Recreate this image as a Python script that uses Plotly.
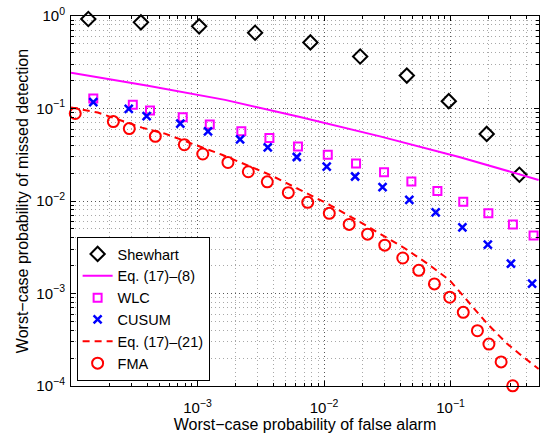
import plotly.graph_objects as go

# ---- data ----
shewhart_x = [1.37e-4, 3.57e-4, 1.03e-3, 2.85e-3, 7.8e-3, 0.0193, 0.0451, 0.0968, 0.193, 0.350]
shewhart_y = [0.928, 0.854, 0.773, 0.659, 0.518, 0.365, 0.227, 0.120, 0.0531, 0.0192]

eq8_x = [1.0e-4, 4.06e-4, 1.65e-3, 6.46e-3, 0.0277, 0.119, 0.497]
eq8_y = [0.243, 0.176, 0.124, 0.0809, 0.050, 0.0297, 0.0169]

wlc_x = [1.50e-4, 3.08e-4, 4.21e-4, 7.64e-4, 1.25e-3, 2.22e-3, 3.70e-3, 6.22e-3, 0.0107,
         0.0179, 0.0298, 0.049, 0.0787, 0.126, 0.199, 0.311, 0.453]
wlc_y = [0.128, 0.110, 0.095, 0.0805, 0.067, 0.0567, 0.048, 0.0389, 0.0316,
         0.0254, 0.0205, 0.0162, 0.0128, 0.0098, 0.00735, 0.00558, 0.00424]

cusum_x = [1.50e-4, 2.86e-4, 3.96e-4, 7.31e-4, 1.21e-3, 2.17e-3, 3.59e-3, 6.09e-3, 0.0105,
           0.0176, 0.029, 0.0472, 0.0763, 0.124, 0.197, 0.300, 0.441]
cusum_y = [0.117, 0.099, 0.0826, 0.0687, 0.0567, 0.0464, 0.038, 0.0299, 0.0236,
           0.0184, 0.0141, 0.01026, 0.00754, 0.00518, 0.00338, 0.0021, 0.00128]

eq21_x = [1.0e-4, 1.63e-4, 3.64e-4, 5.53e-4, 1.56e-3, 3.74e-3, 6.46e-3, 0.01114, 0.0193,
          0.0422, 0.0652, 0.099, 0.1946, 0.28, 0.374, 0.497]
eq21_y = [0.1025, 0.0905, 0.0621, 0.0535, 0.0316, 0.0192, 0.0132, 0.00905, 0.00591,
          0.00316, 0.00212, 0.00138, 0.000472, 0.000286, 0.000207, 0.000153]

fma_x = [1.08e-4, 2.16e-4, 2.89e-4, 4.64e-4, 7.87e-4, 1.10e-3, 1.74e-3, 2.52e-3, 3.56e-3,
         5.22e-3, 7.43e-3, 0.011, 0.0158, 0.0221, 0.0302, 0.0419, 0.0561, 0.0745,
         0.0986, 0.126, 0.163, 0.201, 0.251, 0.31]
fma_y = [0.0883, 0.0722, 0.0606, 0.050, 0.0406, 0.0322, 0.0261, 0.0207, 0.0161,
         0.0123, 0.00968, 0.00735, 0.00558, 0.00438, 0.00333, 0.00242, 0.00178, 0.00127,
         0.000912, 0.000626, 0.000396, 0.000284, 0.000182, 0.0001005]

x_tickvals = [1e-3, 1e-2, 1e-1]
x_ticktext = ["10<sup>−3</sup>", "10<sup>−2</sup>", "10<sup>−1</sup>"]
y_tickvals = [1e-4, 1e-3, 1e-2, 1e-1, 1e0]
y_ticktext = ["10<sup>−4</sup>", "10<sup>−3</sup>", "10<sup>−2</sup>", "10<sup>−1</sup>", "10<sup>0</sup>"]

x_minor = [d * 10.0 ** e for e in range(-4, 0) for d in range(2, 10) if d * 10.0 ** e <= 0.5]
y_minor = [d * 10.0 ** e for e in range(-4, 0) for d in range(2, 10)]

FONT = "Liberation Sans, Arial, Helvetica, sans-serif"

fig = go.Figure()
fig.add_trace(go.Scatter(x=shewhart_x, y=shewhart_y, mode="markers", name="Shewhart",
                         cliponaxis=False,
                         marker=dict(symbol="diamond-open", size=11, color="black",
                                     line=dict(width=2, color="black"))))
fig.add_trace(go.Scatter(x=eq8_x, y=eq8_y, mode="lines", name="Eq. (17)–(8)",
                         line=dict(color="#ff00ff", width=2)))
fig.add_trace(go.Scatter(x=wlc_x, y=wlc_y, mode="markers", name="WLC",
                         cliponaxis=False,
                         marker=dict(symbol="square-open", size=8, color="#ff00ff",
                                     line=dict(width=2, color="#ff00ff"))))
fig.add_trace(go.Scatter(x=cusum_x, y=cusum_y, mode="markers", name="CUSUM",
                         cliponaxis=False,
                         marker=dict(symbol="x-thin-open", size=8, color="#0000ff",
                                     line=dict(width=2.5, color="#0000ff"))))
fig.add_trace(go.Scatter(x=eq21_x, y=eq21_y, mode="lines", name="Eq. (17)–(21)",
                         line=dict(color="#ff0000", width=2, dash="7px,5px")))
fig.add_trace(go.Scatter(x=fma_x, y=fma_y, mode="markers", name="FMA",
                         cliponaxis=False,
                         marker=dict(symbol="circle-open", size=11, color="#ff0000",
                                     line=dict(width=2, color="#ff0000"))))

axis_common = dict(
    type="log", automargin=False,
    showline=True, linecolor="black", linewidth=1, mirror="allticks",
    ticks="inside", ticklen=5, tickcolor="black", tickwidth=1,
    showgrid=True, gridcolor="#555555", griddash="1px,3px", gridwidth=1,
    zeroline=False,
    tickfont=dict(family=FONT, size=15, color="black"),
)

minor_common = dict(tickmode="array", ticks="inside", ticklen=3, tickcolor="black",
                    showgrid=True, gridcolor="#a8a8a8", griddash="1px,3px", gridwidth=1)

fig.update_xaxes(**axis_common, range=[-4, -0.301], ticklabelstandoff=8,
                 tickmode="array", tickvals=x_tickvals, ticktext=x_ticktext,
                 minor=dict(**minor_common, tickvals=x_minor),
                 title=dict(text="Worst−case probability of false alarm",
                            font=dict(family=FONT, size=16, color="black"), standoff=0))
fig.update_yaxes(**axis_common, range=[-4, 0], ticklabelstandoff=2,
                 tickmode="array", tickvals=y_tickvals, ticktext=y_ticktext,
                 minor=dict(**minor_common, tickvals=y_minor),
                 title=dict(text="Worst−case probability of missed detection",
                            font=dict(family=FONT, size=16, color="black"), standoff=3))

fig.update_layout(
    width=547, height=437,
    margin=dict(l=71, r=8, t=16, b=51),
    paper_bgcolor="white", plot_bgcolor="white",
    font=dict(family=FONT, color="black"),
    showlegend=True,
    legend=dict(x=0.012, y=0.0135, xanchor="left", yanchor="bottom",
                bgcolor="white", bordercolor="black", borderwidth=1,
                font=dict(family=FONT, size=14.5, color="black"),
                tracegroupgap=0, itemwidth=30),
)

# put the figure at the window's top-left corner (no default page margin)
fig.write_html("out.html", config={"displayModeBar": False},
               post_script="document.body.style.margin='0';document.body.style.overflow='hidden';")
